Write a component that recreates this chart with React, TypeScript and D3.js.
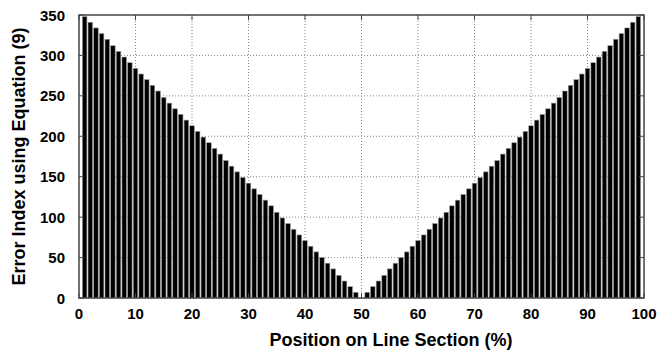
import React, { useEffect, useRef } from "react";
import * as d3 from "d3";

// position on line section (%) and error index
const positions = [
  1, 2, 3, 4, 5, 6, 7, 8, 9, 10, 11, 12, 13, 14, 15, 16, 17, 18, 19, 20,
  21, 22, 23, 24, 25, 26, 27, 28, 29, 30, 31, 32, 33, 34, 35, 36, 37, 38, 39, 40,
  41, 42, 43, 44, 45, 46, 47, 48, 49, 50, 51, 52, 53, 54, 55, 56, 57, 58, 59, 60,
  61, 62, 63, 64, 65, 66, 67, 68, 69, 70, 71, 72, 73, 74, 75, 76, 77, 78, 79, 80,
  81, 82, 83, 84, 85, 86, 87, 88, 89, 90, 91, 92, 93, 94, 95, 96, 97, 98, 99,
];
const errorIndex = [
  348, 341, 334, 327, 320, 312, 305, 298, 291, 284, 277, 270, 263, 256, 248, 241, 234, 227, 220, 213,
  206, 199, 192, 185, 178, 170, 163, 156, 149, 142, 135, 128, 121, 114, 106, 99, 92, 85, 78, 71,
  64, 57, 50, 43, 36, 28, 21, 14, 7, 0, 7, 14, 21, 28, 36, 43, 50, 57, 64, 71,
  78, 85, 92, 99, 106, 114, 121, 128, 135, 142, 149, 156, 163, 170, 178, 185, 192, 199, 206, 213,
  220, 227, 234, 241, 248, 256, 263, 270, 277, 284, 291, 298, 305, 312, 320, 327, 334, 341, 348,
];
const xTicks = [0, 10, 20, 30, 40, 50, 60, 70, 80, 90, 100];
const yTicks = [0, 50, 100, 150, 200, 250, 300, 350];

const W = 662;
const H = 356;
const margin = { top: 15, right: 18, bottom: 58, left: 79 };
const font = "'Liberation Sans', Arial, sans-serif";

const App = () => {
  const svgRef = useRef<SVGSVGElement | null>(null);

  useEffect(() => {
    const svg = d3.select(svgRef.current);
    svg.selectAll("*").remove();

    const x = d3.scaleLinear().domain([0, 100]).range([margin.left, W - margin.right]);
    const y = d3.scaleLinear().domain([0, 350]).range([H - margin.bottom, margin.top]);
    const step = x(1) - x(0);
    const barW = step * 0.8;

    // grid
    const grid = svg.append("g").attr("stroke", "#888").attr("stroke-dasharray", "1,2").attr("stroke-width", 1);
    xTicks.slice(1, -1).forEach((t) => {
      grid.append("line").attr("x1", x(t)).attr("x2", x(t)).attr("y1", y(0)).attr("y2", y(350));
    });
    yTicks.slice(1, -1).forEach((t) => {
      grid.append("line").attr("x1", x(0)).attr("x2", x(100)).attr("y1", y(t)).attr("y2", y(t));
    });

    // bars
    svg
      .append("g")
      .selectAll("rect")
      .data(positions.map((p, i) => ({ p, v: errorIndex[i] })))
      .join("rect")
      .attr("x", (d) => x(d.p) - barW / 2)
      .attr("width", barW)
      .attr("y", (d) => y(d.v))
      .attr("height", (d) => y(0) - y(d.v))
      .attr("fill", "#000")
      .attr("stroke", "#999")
      .attr("stroke-width", 0.6);

    // frame
    svg
      .append("rect")
      .attr("x", x(0))
      .attr("y", y(350))
      .attr("width", x(100) - x(0))
      .attr("height", y(0) - y(350))
      .attr("fill", "none")
      .attr("stroke", "#444")
      .attr("stroke-width", 1.5);

    // inward ticks
    const ticks = svg.append("g").attr("stroke", "#444").attr("stroke-width", 1);
    xTicks.forEach((t) => {
      ticks.append("line").attr("x1", x(t)).attr("x2", x(t)).attr("y1", y(0)).attr("y2", y(0) - 5);
      ticks.append("line").attr("x1", x(t)).attr("x2", x(t)).attr("y1", y(350)).attr("y2", y(350) + 5);
    });
    yTicks.forEach((t) => {
      ticks.append("line").attr("x1", x(0)).attr("x2", x(0) + 5).attr("y1", y(t)).attr("y2", y(t));
      ticks.append("line").attr("x1", x(100)).attr("x2", x(100) - 5).attr("y1", y(t)).attr("y2", y(t));
    });

    // tick labels
    const labels = svg.append("g").attr("font-family", font).attr("font-weight", "bold").attr("font-size", 15).attr("fill", "#000");
    xTicks.forEach((t) => {
      labels.append("text").attr("x", x(t)).attr("y", y(0) + 21).attr("text-anchor", "middle").text(t);
    });
    yTicks.forEach((t) => {
      labels.append("text").attr("x", x(0) - 14).attr("y", y(t) + 5.5).attr("text-anchor", "end").text(t);
    });

    // axis titles
    svg
      .append("text")
      .attr("x", 391)
      .attr("y", 346)
      .attr("text-anchor", "middle")
      .attr("font-family", font)
      .attr("font-weight", "bold")
      .attr("font-size", 18)
      .text("Position on Line Section (%)");

    svg
      .append("text")
      .attr("transform", `translate(25,${(y(0) + y(350)) / 2}) rotate(-90)`)
      .attr("text-anchor", "middle")
      .attr("font-family", font)
      .attr("font-weight", "bold")
      .attr("font-size", 18)
      .text("Error Index using Equation (9)");
  }, []);

  return (
    <svg
      ref={svgRef}
      width={W}
      height={H}
      style={{ position: "absolute", left: 0, top: 0, background: "#fff" }}
    ></svg>
  );
};

export default App;
